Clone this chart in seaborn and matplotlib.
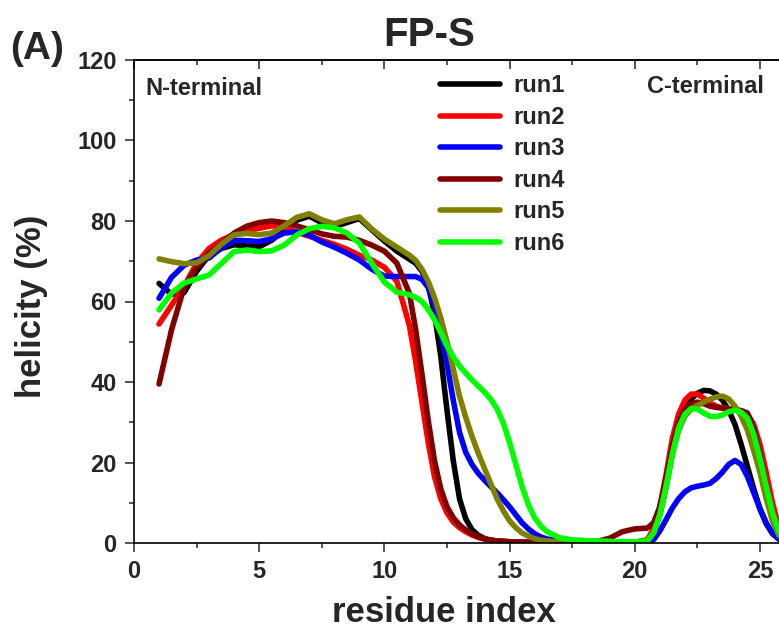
import numpy as np
import pandas as pd
import matplotlib
matplotlib.use("Agg")
import matplotlib.pyplot as plt
from matplotlib.ticker import MultipleLocator
import seaborn as sns

# residue index: half-residue steps, quarter steps where the curves bend fast
residue = [1, 1.5, 2, 2.5, 3, 3.5, 4, 4.5, 5, 5.5,
           6, 6.5, 7, 7.5, 8, 8.5, 9, 9.5, 10, 10.5,
           11, 11.25, 11.5, 11.75, 12, 12.25, 12.5, 12.75, 13, 13.25,
           13.5, 13.75, 14, 14.25, 14.5, 14.75, 15, 15.25, 15.5, 15.75,
           16, 16.25, 16.5,
           17, 17.5, 18, 18.5, 19, 19.5, 20, 20.5,
           20.75, 21, 21.25, 21.5, 21.75, 22, 22.25, 22.5, 22.75, 23,
           23.25, 23.5, 23.75, 24, 24.25, 24.5, 24.75, 25, 25.25, 25.5,
           25.75, 26]

run1 = [64.5, 61.8, 62.2, 67.5, 71.5, 73.2, 74.1, 73.8, 73.6, 75.2,
        77.8, 80.2, 81.2, 79.6, 78.6, 79.6, 80.6, 77.8, 75.0, 72.5,
        70.5, 69.5, 67.5, 64.0, 57.0, 46.5, 33.0, 20.5, 11.0, 6.0,
        3.3, 1.9, 1.1, 0.7, 0.5, 0.4, 0.3, 0.2, 0.2, 0.2,
        0.2, 0.2, 0.2,
        0.2, 0.2, 0.2, 0.2, 0.2, 0.2, 0.2, 0.5,
        2.5, 7.0, 14.0, 22.5, 29.5, 33.5, 35.8, 37.2, 37.9, 37.8,
        37.0, 35.5, 33.0, 29.5, 24.5, 19.0, 13.5, 8.5, 4.8, 2.3,
        1.0, 0.3]
run2 = [54.4, 59.1, 63.8, 69.5, 73.2, 75.3, 76.6, 77.6, 78.2, 78.8,
        78.5, 77.2, 76.2, 75.2, 74.2, 73.0, 71.5, 70.3, 68.5, 65.0,
        54.0, 45.0, 35.0, 25.0, 16.5, 11.0, 7.5, 5.2, 3.8, 2.8,
        2.0, 1.4, 1.0, 0.7, 0.5, 0.4, 0.3, 0.2, 0.2, 0.2,
        0.2, 0.2, 0.2,
        0.2, 0.2, 0.2, 0.2, 0.2, 0.2, 0.2, 0.8,
        3.5, 9.0, 17.0, 26.0, 32.0, 35.5, 37.0, 37.0, 36.0, 34.8,
        34.0, 33.6, 33.3, 33.1, 32.8, 32.0, 29.5, 24.5, 17.5, 10.0,
        4.0, 1.0]
run3 = [60.8, 66.0, 69.0, 70.3, 70.8, 73.4, 75.2, 75.1, 74.9, 75.6,
        77.0, 77.3, 76.5, 74.8, 73.5, 72.0, 70.3, 68.0, 66.3, 66.2,
        66.2, 66.2, 65.5, 63.5, 59.0, 52.5, 44.5, 35.5, 27.5, 22.5,
        19.5, 17.3, 15.6, 14.0, 12.5, 10.8, 9.0, 7.0, 5.0, 3.5,
        2.3, 1.5, 1.0,
        0.5, 0.3, 0.2, 0.2, 0.2, 0.2, 0.2, 0.2,
        0.8, 3.0, 5.8, 8.7, 11.0, 12.7, 13.7, 14.1, 14.4, 14.8,
        16.0, 17.6, 19.5, 20.5, 19.5, 16.5, 12.5, 8.5, 5.0, 2.5,
        1.0, 0.3]
run4 = [39.5, 53.0, 63.5, 68.5, 72.0, 74.5, 77.0, 78.7, 79.6, 80.0,
        79.6, 78.8, 77.8, 76.8, 76.2, 76.0, 75.2, 74.0, 72.5, 69.5,
        62.0, 53.0, 42.0, 30.5, 20.5, 13.5, 9.0, 6.3, 4.5, 3.2,
        2.2, 1.5, 1.0, 0.7, 0.5, 0.4, 0.3, 0.2, 0.2, 0.2,
        0.2, 0.2, 0.2,
        0.2, 0.2, 0.2, 0.4, 1.2, 2.8, 3.5, 3.7,
        5.0, 9.0, 16.0, 24.0, 30.0, 33.2, 34.6, 35.0, 34.6, 34.0,
        33.7, 33.5, 33.3, 33.1, 32.9, 32.3, 28.5, 22.0, 14.0, 7.0,
        2.5, 0.5]
run5 = [70.6, 69.9, 69.4, 69.6, 71.4, 74.3, 76.6, 76.9, 76.6, 77.0,
        78.8, 80.9, 81.8, 80.3, 79.3, 80.3, 81.0, 78.0, 75.5, 73.5,
        71.5, 70.2, 68.0, 65.0, 61.0, 56.0, 50.0, 43.3, 36.5, 31.2,
        26.5, 22.3, 18.5, 14.7, 11.0, 8.0, 5.5, 3.8, 2.5, 1.7,
        1.1, 0.7, 0.5,
        0.3, 0.2, 0.2, 0.2, 0.2, 0.2, 0.2, 0.5,
        2.5, 7.0, 14.0, 22.0, 28.0, 31.5, 33.2, 34.2, 35.0, 35.7,
        36.3, 36.5, 35.8, 34.0, 31.5, 28.0, 23.0, 17.5, 11.0, 5.5,
        2.0, 0.5]
run6 = [57.9, 62.1, 64.6, 65.6, 66.6, 69.5, 72.4, 72.8, 72.4, 72.6,
        74.0, 76.5, 78.1, 78.7, 78.3, 77.0, 74.5, 69.5, 64.8, 62.3,
        61.7, 61.0, 60.0, 58.0, 55.5, 52.3, 49.0, 46.3, 44.0, 42.2,
        40.5, 39.0, 37.5, 35.7, 33.3, 29.8, 25.0, 19.5, 14.0, 9.5,
        6.3, 4.2, 2.8,
        1.3, 0.8, 0.6, 0.5, 0.4, 0.3, 0.3, 0.5,
        2.5, 7.0, 14.0, 22.0, 28.5, 32.0, 33.4, 33.3, 32.3, 31.5,
        31.4, 31.8, 32.6, 33.0, 32.5, 31.0, 27.0, 21.0, 14.0, 7.5,
        3.0, 0.7]

run_names = ["run1", "run2", "run3", "run4", "run5", "run6"]
run_colors = ["#000000", "#ff0000", "#0000ff", "#800000", "#808000", "#00ff00"]

frames = []
for name, vals in zip(run_names, [run1, run2, run3, run4, run5, run6]):
    frames.append(pd.DataFrame({"residue": residue, "helicity": vals, "run": name}))
df = pd.concat(frames, ignore_index=True)

sns.set_style("ticks")
plt.rcParams["font.family"] = ["Liberation Sans", "DejaVu Sans"]
plt.rcParams["font.weight"] = "bold"

fig = plt.figure(figsize=(7.79, 6.33), dpi=100)
ax = fig.add_axes([134 / 779, 90 / 633, 651 / 779, 483 / 633])

sns.lineplot(data=df, x="residue", y="helicity", hue="run",
             palette=dict(zip(run_names, run_colors)), estimator=None,
             linewidth=4, ax=ax)
for ln in ax.get_lines():
    ln.set_solid_capstyle("round")
    ln.set_solid_joinstyle("round")

ax.set_xlim(0, 26)
ax.set_ylim(0, 120)
ax.xaxis.set_major_locator(MultipleLocator(5))
ax.xaxis.set_minor_locator(MultipleLocator(2.5))
ax.yaxis.set_major_locator(MultipleLocator(20))
ax.yaxis.set_minor_locator(MultipleLocator(10))
ax.tick_params(which="both", direction="out", width=1.1, labelsize=17,
               top=False, right=False)
ax.tick_params(which="major", length=6.5, pad=6)
ax.tick_params(which="minor", length=3.6)
for lab in ax.get_xticklabels() + ax.get_yticklabels():
    lab.set_fontweight("bold")
for side in ["left", "bottom", "top"]:
    ax.spines[side].set_linewidth(1.2)
    ax.spines[side].set_color("black")
ax.spines["right"].set_visible(False)

top = ax.secondary_xaxis("top")
top.xaxis.set_major_locator(MultipleLocator(5))
top.xaxis.set_minor_locator(MultipleLocator(2.5))
top.tick_params(which="both", direction="in", width=1.1, labeltop=False)
top.tick_params(which="major", length=6.5)
top.tick_params(which="minor", length=3.6)
top.spines["top"].set_linewidth(1.2)

ax.set_xlabel("residue index", fontsize=25, fontweight="bold")
ax.set_ylabel("helicity (%)", fontsize=25, fontweight="bold")
ax.xaxis.set_label_coords(0.476, -0.11)
ax.yaxis.set_label_coords(-0.132, 0.49)

handles, labels = ax.get_legend_handles_labels()
ax.legend(handles, labels, loc="upper left", bbox_to_anchor=(0.47, 0.97),
          frameon=False, handlelength=2.55, handletextpad=0.55,
          labelspacing=0.36, borderpad=0, borderaxespad=0,
          prop={"weight": "bold", "size": 17})

ax.text(0.017, 0.9275, "N-terminal", transform=ax.transAxes, fontsize=17,
        fontweight="bold", va="baseline", ha="left")
ax.text(0.788, 0.9317, "C-terminal", transform=ax.transAxes, fontsize=17,
        fontweight="bold", va="baseline", ha="left")

fig.text(0.551, 1 - 46 / 633, "FP-S", fontsize=29, fontweight="bold",
         ha="center", va="baseline")
fig.text(10 / 779, 1 - 59 / 633, "(A)", fontsize=28, fontweight="bold",
         ha="left", va="baseline")

fig.savefig("out.png", dpi=100)
